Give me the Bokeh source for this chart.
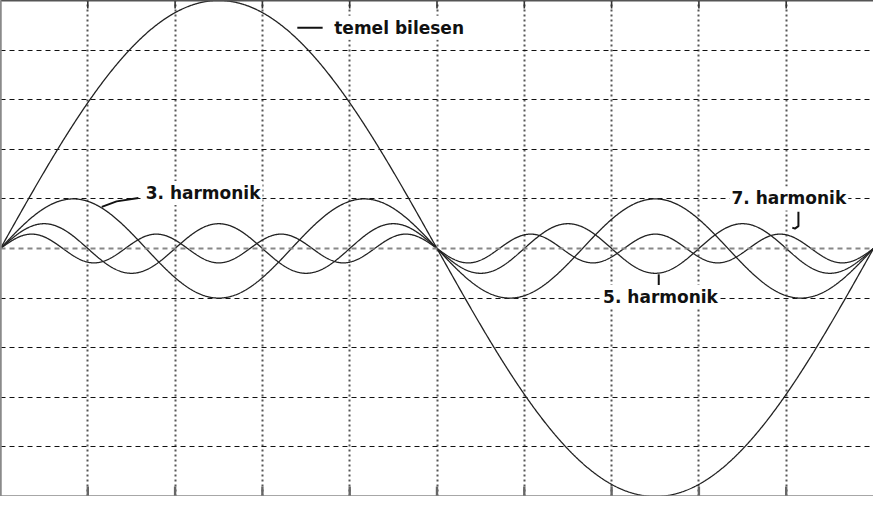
import numpy as np
from bokeh.plotting import figure
from bokeh.models import LinearAxis, FixedTicker, Range1d, Span, ColumnDataSource, Grid
from bokeh.core.properties import value
from bokeh.embed import file_html
from bokeh.resources import INLINE

# harmonic orders and amplitudes (grid units)
orders = [1, 3, 5, 7]
amplitudes = [5.0, 1.0, 0.5, 0.29]

x_ticks = [1, 2, 3, 4, 5, 6, 7, 8, 9]
y_ticks = [-4, -3, -2, -1, 1, 2, 3, 4]

label_texts = ["temel bilesen", "3. harmonik", "5. harmonik", "7. harmonik"]
label_x = [3.80, 1.64, 6.88, 8.35]
label_y = [4.45, 1.12, -0.98, 1.01]

# leader marks next to labels
lead_temel_x = [3.40, 3.69]
lead_temel_y = [4.45, 4.45]
lead_h3_x = [1.16, 1.33, 1.58]
lead_h3_y = [0.84, 0.95, 1.02]
lead_h5_x = [7.54, 7.54]
lead_h5_y = [-0.52, -0.78]
lead_h7_x = [9.14, 9.14, 9.10, 9.07]
lead_h7_y = [0.74, 0.45, 0.40, 0.42]

p = figure(width=873, height=496, output_backend="svg", toolbar_location=None,
           x_range=Range1d(0, 10), y_range=Range1d(-5, 5),
           x_axis_type=None, y_axis_type=None, min_border=0,
           outline_line_color=None, background_fill_color="white",
           border_fill_color="white")

# frame via axes with no ticks
for loc, col, w in (("left", "#8a8a8a", 2.5), ("above", "#555555", 2),
                    ("below", "#8a8a8a", 2.5)):
    ax = LinearAxis(ticker=FixedTicker(ticks=[]), axis_line_width=w,
                    axis_line_color=col, major_tick_out=0, major_tick_in=0,
                    minor_tick_out=0, minor_tick_in=0, major_label_standoff=0)
    p.add_layout(ax, loc)

p.add_layout(Grid(dimension=0, ticker=FixedTicker(ticks=x_ticks),
                  grid_line_color="#555555", grid_line_dash="2 3",
                  grid_line_width=2))
p.add_layout(Grid(dimension=1, ticker=FixedTicker(ticks=y_ticks),
                  grid_line_color="#111111", grid_line_dash="5 4",
                  grid_line_width=1.2))
p.add_layout(Span(location=0, dimension="width", line_color="#888888",
                  line_dash="5 4", line_width=1.8))

# tick marks on top and bottom frame edges
n_t = len(x_ticks)
p.segment(x0=x_ticks, y0=[5.0] * n_t, x1=x_ticks, y1=[4.84] * n_t,
          line_color="#333333", line_width=1.6)
p.segment(x0=x_ticks, y0=[-5.0] * n_t, x1=x_ticks, y1=[-4.8] * n_t,
          line_color="#666666", line_width=2.4)

xs = np.linspace(0, 10, 1500)
for n, a in zip(orders, amplitudes):
    p.line(xs, a * np.sin(2 * np.pi * n * xs / 10), line_color="#222222",
           line_width=1.3)

for lx, ly in ((lead_temel_x, lead_temel_y), (lead_h3_x, lead_h3_y),
               (lead_h5_x, lead_h5_y), (lead_h7_x, lead_h7_y)):
    p.line(lx, ly, line_color="#111111", line_width=2)

src = ColumnDataSource(dict(x=label_x, y=label_y, t=label_texts))
p.text(x="x", y="y", text="t", source=src, text_font=value("DejaVu Sans"),
       text_font_style="bold", text_font_size="17px", text_color="#111111",
       text_baseline="middle", text_align="left",
       background_fill_color="white", padding=2)

open("out.html", "w").write(file_html(p, INLINE))
